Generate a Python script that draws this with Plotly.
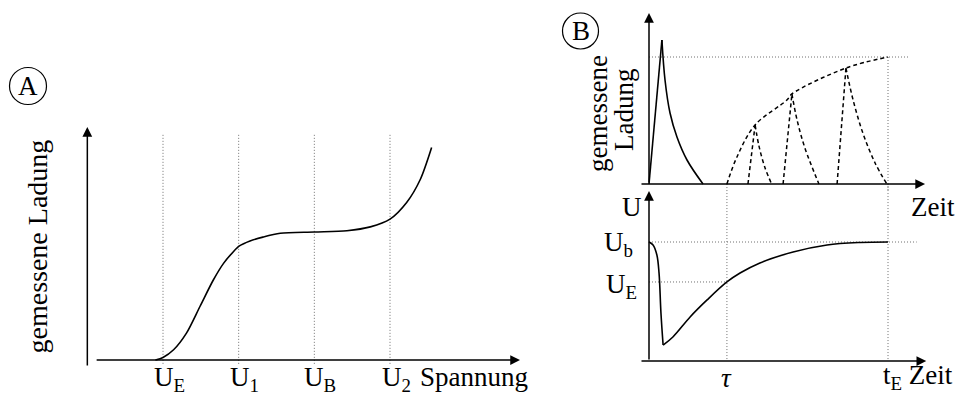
import plotly.graph_objects as go

W, H = 957, 395
FONT = "Liberation Serif, DejaVu Serif, serif"
FS = 27

# ---------------- data ----------------
# Panel A: measured charge vs. voltage (arbitrary units, U_E=1, U_1=2, U_B=3, U_2=4)
volt_marks = [1, 2, 3, 4]
volt_labels = ["U<sub>E</sub>", "U<sub>1</sub>", "U<sub>B</sub>", "U<sub>2</sub>"]
charge_x = [0.90, 1.00, 1.14, 1.31, 1.49, 1.665, 1.80, 1.93, 2.01, 2.15, 2.32, 2.55, 3.00, 3.43, 3.74, 4.00, 4.22, 4.40, 4.55]
charge_y = [0.00, 0.02, 0.08, 0.21, 0.42, 0.625, 0.755, 0.846, 0.891, 0.93, 0.96, 0.99, 1.00, 1.01, 1.04, 1.10, 1.23, 1.41, 1.66]

# Panel B top: measured charge vs. time
tau = 3.26
t_end = 10.0
q_max = 1.0
pulse0_rise_t = [0.0, 0.54]
pulse0_rise_q = [0.0, 1.134]
pulse0_fall_t = [0.54, 0.67, 0.88, 1.17, 1.59, 2.26]
pulse0_fall_q = [1.134, 0.819, 0.559, 0.370, 0.189, 0.0]
envelope_t = [3.26, 3.68, 4.44, 5.77, 5.98, 8.24, 10.0]
envelope_q = [0.0, 0.213, 0.465, 0.661, 0.709, 0.913, 1.0]
pulse_rise_t = [[4.14, 4.44], [5.61, 5.98], [7.87, 8.24]]
pulse_rise_q = [[0.0, 0.465], [0.0, 0.709], [0.0, 0.913]]
pulse_fall_t = [[4.44, 4.60, 4.85, 5.13], [5.98, 6.20, 6.53, 7.11], [8.24, 8.54, 8.95, 9.46, 9.95]]
pulse_fall_q = [[0.465, 0.30, 0.13, 0.0], [0.709, 0.50, 0.28, 0.0], [0.913, 0.661, 0.40, 0.165, 0.0]]

# Panel B bottom: voltage vs. time
U_b = 1.0
U_E = 0.664
volt_drop_t = [0.0, 0.17, 0.33, 0.42, 0.50, 0.59]
volt_drop_u = [1.0, 0.975, 0.891, 0.739, 0.403, 0.134]
volt_rise_t = [0.59, 1.00, 1.72, 2.43, 3.26, 3.81, 4.64, 6.03, 7.45, 8.83, 10.0]
volt_rise_u = [0.134, 0.202, 0.370, 0.513, 0.664, 0.739, 0.824, 0.916, 0.975, 0.996, 1.0]

# ---------------- layout helpers ----------------
def px_x(p):
    return p / W

def px_y(p):
    return 1 - p / H

LINE = dict(color="black", width=1.6)
DOT = dict(color="#707070", width=1, dash="1px,2px")
DASH = dict(color="black", width=1.5, dash="4px,3px")

fig = go.Figure()

def add_line(x, y, ax, line, shape="linear", smoothing=1.0):
    ln = dict(**line, shape=shape)
    if shape == "spline":
        ln["smoothing"] = smoothing
    fig.add_trace(go.Scatter(x=x, y=y, mode="lines", line=ln,
                             xaxis="x" + ax, yaxis="y" + ax, hoverinfo="skip", showlegend=False))

# ---- Panel A ----
vx, vy = [], []
for m in volt_marks:
    vx += [m, m, None]
    vy += [-0.03, 1.76, None]
add_line(vx, vy, "", DOT)
add_line(charge_x, charge_y, "", LINE, "spline", 0.8)

# ---- Panel B top ----
add_line([0, t_end * 1.084], [q_max, q_max], "2", DOT)
add_line([t_end, t_end], [q_max, -0.1], "2", DOT)
add_line(pulse0_rise_t, pulse0_rise_q, "2", LINE)
add_line(pulse0_fall_t, pulse0_fall_q, "2", LINE, "spline")
add_line(envelope_t, envelope_q, "2", DASH, "spline")
for rt, rq in zip(pulse_rise_t, pulse_rise_q):
    add_line(rt, rq, "2", DASH)
for ft, fq in zip(pulse_fall_t, pulse_fall_q):
    add_line(ft, fq, "2", DASH, "spline")

# ---- Panel B bottom ----
add_line([0, t_end * 1.12], [U_b, U_b], "3", DOT)
add_line([0, tau], [U_E, U_E], "3", DOT)
add_line([tau, tau], [1.487, 0], "3", DOT)
add_line([t_end, t_end], [1.487, 0], "3", DOT)
add_line(volt_drop_t, volt_drop_u, "3", LINE, "spline")
add_line(volt_rise_t, volt_rise_u, "3", LINE, "spline")

# axis frames: domains in pixels, data scales anchored to reference points
def rng(p0, p1, p_ref0, v0, p_ref1, v1):
    s = (v1 - v0) / (p_ref1 - p_ref0)
    return [v0 + (p0 - p_ref0) * s, v0 + (p1 - p_ref0) * s]

ax_common = dict(visible=False, fixedrange=True)
xA = rng(80, 530, 163, 1, 390, 4)
yA = rng(372, 120, 360, 0, 232, 1)
xB = rng(635, 957, 649, 0, 888, t_end)
yB2 = rng(192, 8, 184, 0, 57, q_max)
yB3 = rng(372, 184, 361, 0, 242, U_b)

fig.update_layout(
    width=W, height=H, margin=dict(l=0, r=0, t=0, b=0),
    paper_bgcolor="white", plot_bgcolor="rgba(0,0,0,0)",
    font=dict(family=FONT, size=FS, color="black"),
    xaxis=dict(domain=[px_x(80), px_x(530)], range=xA, anchor="y", **ax_common),
    yaxis=dict(domain=[px_y(372), px_y(120)], range=yA, anchor="x", **ax_common),
    xaxis2=dict(domain=[px_x(635), px_x(957)], range=xB, anchor="y2", **ax_common),
    yaxis2=dict(domain=[px_y(192), px_y(8)], range=yB2, anchor="x2", **ax_common),
    xaxis3=dict(domain=[px_x(635), px_x(957)], range=xB, anchor="y3", **ax_common),
    yaxis3=dict(domain=[px_y(372), px_y(184)], range=yB3, anchor="x3", **ax_common),
)

# axes with arrows
def arrow(ax, x0, y0, x1, y1):
    fig.add_annotation(x=x1, y=y1, ax=x0, ay=y0, xref="x" + ax, yref="y" + ax,
                       axref="x" + ax, ayref="y" + ax, text="", showarrow=True,
                       arrowhead=2, arrowsize=1.3, arrowwidth=1.5, arrowcolor="black", standoff=0)

arrow("", xA[0] + 0.2, 0, 5.718, 0)
arrow("", 0, -0.055, 0, 1.82)
arrow("2", -0.377, 0, 11.55, 0)
arrow("2", 0, 0, 0, 1.346)
arrow("3", -0.377, 0, 11.6, 0)
arrow("3", 0, -0.0, 0, 1.429)

# texts
def text(t, x, y, xanchor="center", yanchor="top", angle=0, xref="paper", xshift=0, size=FS):
    fig.add_annotation(text=t, x=x, y=y, xref=xref, yref="paper", showarrow=False,
                       xanchor=xanchor, yanchor=yanchor, textangle=angle, xshift=xshift,
                       font=dict(family=FONT, size=size, color="black"))

asc = 0.891 * FS + 1
for m, lab in zip(volt_marks, volt_labels):
    text(lab, m, px_y(385 - asc), xref="x", xshift=6)
text("Spannung", px_x(474), px_y(385 - asc))
text("gemessene Ladung", px_x(36.5), px_y(247), yanchor="middle", angle=-90, size=28)
text("gemessene", px_x(598), px_y(114), yanchor="middle", angle=-90)
text("Ladung", px_x(624), px_y(110), yanchor="middle", angle=-90)
text("U", px_x(632), px_y(215 - asc))
text("U<sub>b</sub>", px_x(635), px_y(250 - asc), xanchor="right")
text("U<sub>E</sub>", px_x(639), px_y(292.5 - asc), xanchor="right")
text("Zeit", px_x(933), px_y(215 - asc))
text("<i>τ</i>", tau, px_y(386 - asc), xref="x3")
text("t<sub>E</sub> Zeit", px_x(881), px_y(383 - asc), xanchor="left")

# circled panel letters
for letter, cx, cy, r in [("A", 28, 86, 18.5), ("B", 580.5, 31, 18)]:
    fig.add_shape(type="circle", xref="paper", yref="paper",
                  x0=px_x(cx - r), x1=px_x(cx + r), y0=px_y(cy + r), y1=px_y(cy - r),
                  line=dict(color="black", width=1.2))
    text(letter, px_x(cx), px_y(cy), yanchor="middle")

fig.write_html("out.html")
